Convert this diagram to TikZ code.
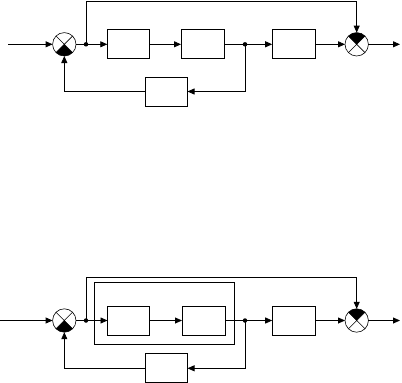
\documentclass[tikz,border=0pt]{standalone}
\usetikzlibrary{arrows.meta}
\begin{document}
\begin{tikzpicture}[x=1pt,y=-1pt, line width=0.8pt,
 blk/.style={draw, minimum width=42pt, minimum height=29pt, inner sep=0pt, outer sep=0pt},
 sumj/.style={draw, circle, minimum size=23.4pt, inner sep=0pt, outer sep=0pt, line width=0.6pt},
 dotj/.style={circle, fill, minimum size=4.5pt, inner sep=0pt, outer sep=0pt},
 arr/.style={-{Triangle[length=7pt,width=6pt]}}]
\useasboundingbox (0,0) rectangle (402,383);
% ---------- top diagram ----------
\coordinate (in1) at (8,44.3);
\node[sumj] (s1) at (64.3,44.3) {};
\node[dotj] (d1) at (86,44.3) {};
\node[blk] (b1) at (128.3,44.3) {};
\node[blk, minimum width=43pt] (b2) at (202.5,44.3) {};
\node[dotj] (d2) at (245,44.3) {};
\node[blk, minimum width=43pt] (b4) at (293.7,44.3) {};
\node[blk] (b3) at (166.5,91.5) {};
\node[sumj] (s2) at (356.7,44.3) {};
\coordinate (out1) at (400,44.3);
\coordinate (t1) at (86,1.5);
\draw[arr] (in1) -- (s1.west);
\draw (s1.east) -- (d1.center);
\draw[arr] (d1.center) -- (b1.west);
\draw[arr] (b1.east) -- (b2.west);
\draw (b2.east) -- (d2.center);
\draw[arr] (d2.center) -- (b4.west);
\draw[arr] (b4.east) -- (s2.west);
\draw[arr] (s2.east) -- (out1);
\draw[arr] (d1.center) -- (t1) -| (s2.north);
\draw[arr] (d2.center) |- (b3.east);
\draw[arr] (b3.west) -| (s1.south);
% junction marks
\fill (s1.center) -- (s1.south west) arc[start angle=135,end angle=45,radius=11.7] -- cycle;
\draw[line width=0.6pt] (s1.north west) -- (s1.south east) (s1.north east) -- (s1.south west);
\fill (s2.center) -- (s2.north west) arc[start angle=225,end angle=315,radius=11.7] -- cycle;
\draw[line width=0.6pt] (s2.north west) -- (s2.south east) (s2.north east) -- (s2.south west);
% ---------- bottom diagram ----------
\coordinate (in2) at (0,320.5);
\node[sumj] (s3) at (64.3,320.5) {};
\node[dotj] (d3) at (86,320.5) {};
\node[draw, minimum width=140pt, minimum height=61.6pt, inner sep=0pt, outer sep=0pt] (r1) at (164.7,313.5) {};
\node[blk] (b5) at (128.5,320.5) {};
\node[blk, minimum width=43pt] (b6) at (203.5,320.5) {};
\node[dotj] (d4) at (245,320.5) {};
\node[blk, minimum width=43pt] (b8) at (293.7,320.5) {};
\node[blk] (b7) at (166.5,368.3) {};
\node[sumj] (s4) at (356.7,320.5) {};
\coordinate (out2) at (400,320.5);
\coordinate (t2) at (86,277.3);
\draw[arr] (in2) -- (s3.west);
\draw (s3.east) -- (d3.center);
\draw[arr] (d3.center) -- (b5.west);
\draw[arr] (b5.east) -- (b6.west);
\draw (b6.east) -- (d4.center);
\draw[arr] (d4.center) -- (b8.west);
\draw[arr] (b8.east) -- (s4.west);
\draw[arr] (s4.east) -- (out2);
\draw[arr] (d3.center) -- (t2) -| (s4.north);
\draw[arr] (d4.center) |- (b7.east);
\draw[arr] (b7.west) -| (s3.south);
\fill (s3.center) -- (s3.south west) arc[start angle=135,end angle=45,radius=11.7] -- cycle;
\draw[line width=0.6pt] (s3.north west) -- (s3.south east) (s3.north east) -- (s3.south west);
\fill (s4.center) -- (s4.north west) arc[start angle=225,end angle=315,radius=11.7] -- cycle;
\draw[line width=0.6pt] (s4.north west) -- (s4.south east) (s4.north east) -- (s4.south west);
\end{tikzpicture}
\end{document}
